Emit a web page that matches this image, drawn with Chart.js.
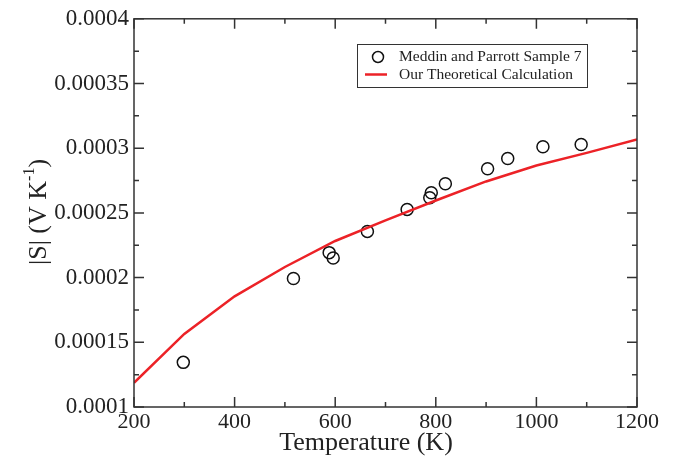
<!DOCTYPE html>
<html>
<head>
<meta charset="utf-8">
<script src="https://cdn.jsdelivr.net/npm/chart.js@4"></script>
<style>
  html, body { margin: 0; padding: 0; background: #fff; }
  #wrap { width: 685px; height: 461px; }
</style>
</head>
<body>
<div id="wrap"><canvas id="seebeckChart"></canvas></div>
<script>
// measured points (Meddin and Parrott, sample 7)
const measTemp = [298, 517, 588, 596, 664, 743, 788, 791, 819, 903, 943, 1013, 1089];
const measS = [0.0001345, 0.0001993, 0.0002193, 0.0002151, 0.0002357, 0.0002527, 0.0002617,
               0.0002656, 0.0002725, 0.0002841, 0.000292, 0.0003011, 0.0003028];

// theory curve
const calcTemp = [200, 300, 400, 500, 600, 700, 800, 900, 1000, 1100, 1200];
const calcS = [0.0001187, 0.0001565, 0.0001855, 0.0002082, 0.0002283, 0.0002442,
               0.0002596, 0.0002743, 0.0002866, 0.0002964, 0.0003067];

const measLabel = 'Meddin and Parrott Sample 7';
const calcLabel = 'Our Theoretical Calculation';

const serif = '"Liberation Serif", "DejaVu Serif", serif';
const red = '#ec2227';
const frameColor = '#333';

// frame, inward ticks on all four sides, axis titles, legend
const framePlugin = {
  id: 'frame',
  afterDraw(chart) {
    const { ctx, chartArea: a, scales: { x, y } } = chart;
    ctx.save();
    ctx.strokeStyle = frameColor;
    ctx.lineWidth = 1.5;
    ctx.strokeRect(a.left, a.top, a.right - a.left, a.bottom - a.top);

    ctx.beginPath();
    for (let t = 200; t <= 1200; t += 100) {
      const px = x.getPixelForValue(t);
      const len = t % 200 === 0 ? 10 : 5;
      ctx.moveTo(px, a.bottom); ctx.lineTo(px, a.bottom - len);
      ctx.moveTo(px, a.top); ctx.lineTo(px, a.top + len);
    }
    for (let k = 0; k <= 12; k++) {
      const py = y.getPixelForValue(0.0001 + k * 0.000025);
      const len = k % 2 === 0 ? 10 : 5;
      ctx.moveTo(a.left, py); ctx.lineTo(a.left + len, py);
      ctx.moveTo(a.right, py); ctx.lineTo(a.right - len, py);
    }
    ctx.stroke();

    // axis titles
    ctx.fillStyle = '#222';
    ctx.font = '26px ' + serif;
    ctx.textAlign = 'center';
    ctx.textBaseline = 'alphabetic';
    ctx.fillText('Temperature (K)', 366, 450);

    ctx.save();
    ctx.translate(46, 212);
    ctx.rotate(-Math.PI / 2);
    const main = '|S| (V K';
    const sup = '-1';
    ctx.font = '26px ' + serif;
    const wMain = ctx.measureText(main).width;
    ctx.font = '16px ' + serif;
    const wSup = ctx.measureText(sup).width;
    ctx.font = '26px ' + serif;
    const wClose = ctx.measureText(')').width;
    let sx = -(wMain + wSup + wClose) / 2;
    ctx.textAlign = 'left';
    ctx.fillText(main, sx, 0);
    sx += wMain;
    ctx.font = '16px ' + serif;
    ctx.fillText(sup, sx, -12);
    sx += wSup;
    ctx.font = '26px ' + serif;
    ctx.fillText(')', sx, 0);
    ctx.restore();

    // legend box
    ctx.lineWidth = 1;
    ctx.strokeStyle = '#333';
    ctx.strokeRect(357.5, 44.5, 230, 43);
    ctx.beginPath();
    ctx.lineWidth = 1.5;
    ctx.strokeStyle = '#111';
    ctx.arc(378, 57, 5.5, 0, Math.PI * 2);
    ctx.stroke();
    ctx.beginPath();
    ctx.strokeStyle = red;
    ctx.lineWidth = 2.5;
    ctx.moveTo(365, 74.5); ctx.lineTo(387, 74.5);
    ctx.stroke();
    ctx.fillStyle = '#222';
    ctx.font = '15.5px ' + serif;
    ctx.textAlign = 'left';
    ctx.textBaseline = 'middle';
    ctx.fillText(measLabel, 399, 57);
    ctx.fillText(calcLabel, 399, 75);
    ctx.restore();
  }
};

new Chart(document.getElementById('seebeckChart'), {
  type: 'scatter',
  data: {
    datasets: [
      {
        label: calcLabel,
        data: calcTemp.map((t, i) => ({ x: t, y: calcS[i] })),
        showLine: true,
        borderColor: red,
        borderWidth: 2.5,
        pointRadius: 0,
        tension: 0
      },
      {
        label: measLabel,
        data: measTemp.map((t, i) => ({ x: t, y: measS[i] })),
        showLine: false,
        pointStyle: 'circle',
        pointRadius: 6,
        borderColor: '#111',
        borderWidth: 1.5,
        backgroundColor: 'rgba(0,0,0,0)'
      }
    ]
  },
  options: {
    responsive: true,
    maintainAspectRatio: false,
    animation: false,
    layout: { padding: { top: 18, right: 48, bottom: 0, left: 0 } },
    plugins: {
      legend: { display: false },
      tooltip: { enabled: false }
    },
    scales: {
      x: {
        type: 'linear',
        min: 200,
        max: 1200,
        grid: { display: false, drawTicks: false },
        border: { display: false },
        ticks: {
          stepSize: 200,
          padding: 2,
          color: '#222',
          font: { family: serif, size: 22 },
          callback: v => String(v)
        },
        afterFit(scale) { scale.height = 54; }
      },
      y: {
        type: 'linear',
        min: 0.0001,
        max: 0.0004,
        grid: { display: false, drawTicks: false },
        border: { display: false },
        ticks: {
          stepSize: 0.00005,
          padding: 5,
          color: '#222',
          font: { family: serif, size: 23 },
          callback: v => String(Number(v.toFixed(6)))
        },
        afterFit(scale) { scale.width = 134; }
      }
    }
  },
  plugins: [framePlugin]
});
</script>
</body>
</html>
